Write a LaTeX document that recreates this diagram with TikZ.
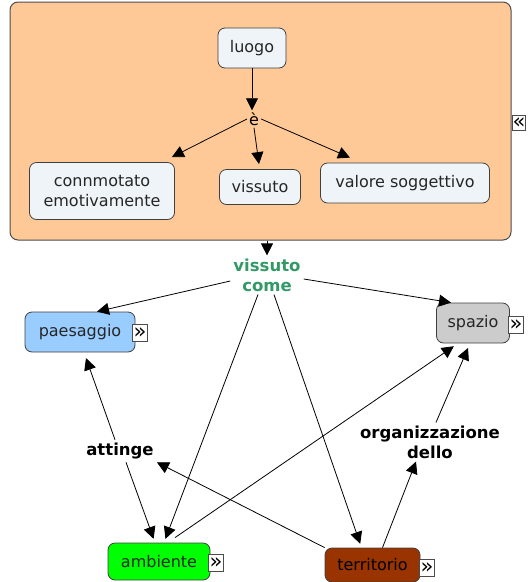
\documentclass[tikz,border=0pt]{standalone}
\usepackage{fontspec}
\setmainfont{DejaVu Sans}
\usetikzlibrary{arrows.meta}
\definecolor{peach}{HTML}{FFC997}
\definecolor{pale}{HTML}{EEF4F7}
\definecolor{skyfill}{HTML}{99CCFF}
\definecolor{greyfill}{HTML}{CCCCCC}
\definecolor{brownfill}{HTML}{993300}
\definecolor{linkgreen}{HTML}{339966}
\begin{document}
\begin{tikzpicture}[x=1pt,y=-1pt,
    concept/.style={draw=black!75,fill=pale,rounded corners=7pt,line width=.8pt,align=center,
      text=black!85,font=\fontsize{16}{20}\selectfont,inner sep=0pt,minimum height=40pt},
    linkphrase/.style={font=\bfseries\fontsize{16.5}{20}\selectfont,align=center,inner sep=3pt},
    icon/.style={draw=black!70,fill=white,line width=.6pt,inner sep=0pt,minimum width=15pt,
      minimum height=17pt,font=\fontsize{21}{21}\selectfont},
    arr/.style={-{Triangle[length=12pt,width=12pt]},line width=.8pt}]
    \useasboundingbox (0,0) rectangle (529,582);
    % map with the sub-concepts of place
    \node[draw=black!70,fill=peach,rounded corners=8pt,line width=1pt,minimum width=501pt,minimum height=238pt] (place) at (260.5,121) {};
    \node[icon,minimum width=13pt,minimum height=15pt] (placeicon) at (519,123) {\raisebox{-1pt}{«}};
    \node[concept,minimum width=68pt] (luogo) at (252,48) {luogo};
    \node[font=\fontsize{16}{20}\selectfont,inner sep=2pt] (e) at (254,119) {è};
    \node[concept,minimum width=145pt,minimum height=57pt] (conn) at (102,191) {connmotato\\emotivamente};
    \node[concept,minimum width=81pt,minimum height=35pt] (vis) at (260,187) {vissuto};
    \node[concept,minimum width=169pt] (val) at (405,183) {valore soggettivo};
    \draw[arr] (luogo.south) -- (luogo.south |- e.north);
    \draw[arr] (e.west) -- ([xshift=-3pt,yshift=5pt]conn.north east);
    \draw[arr] (e.south) -- ([xshift=-1pt,yshift=5pt]vis.north);
    \draw[arr] (e.east) -- ([xshift=-55pt,yshift=5pt]val.north);
    % outer concepts
    \node[linkphrase,text=linkgreen] (viscome) at (267,275) {vissuto\\come};
    \node[concept,fill=skyfill,minimum width=110pt] (paes) at (80,332) {paesaggio};
    \node[icon] (paesicon) at (140,333) {\raisebox{-1pt}{»}};
    \node[concept,fill=greyfill,minimum width=73pt] (spazio) at (473,323) {spazio};
    \node[icon] (spazioicon) at (516,325) {\raisebox{-1pt}{»}};
    \node[concept,fill=green,minimum width=102pt,minimum height=37pt] (amb) at (159,561.5) {ambiente};
    \node[concept,fill=brownfill,text=black,minimum width=95pt,minimum height=34pt] (terr) at (372.5,565) {territorio};
    \node[icon] (ambicon) at (216,563) {\raisebox{-1pt}{»}};
    \node[icon] (terricon) at (427,568) {\raisebox{-1pt}{»}};
    \node[linkphrase] (attinge) at (120,451) {attinge};
    \node[linkphrase] (org) at (430,442) {organizzazione\\dello};
    \draw[arr] (place.south -| viscome.north) -- (viscome.north);
    \draw[arr] ([yshift=-6pt]viscome.west) -- ([xshift=17pt]paes.north);
    \draw[arr] ([yshift=-4pt]viscome.east) -- ([xshift=-22pt]spazio.north);
    \draw[arr,shorten >=4pt] ([xshift=-9pt]viscome.south) -- ([xshift=5pt]amb.north);
    \draw[arr,shorten >=4pt] ([xshift=7pt]viscome.south) -- ([xshift=-11pt]terr.north);
    \draw[arr,shorten >=6pt] ([xshift=-5pt]attinge.north) -- ([xshift=4pt]paes.south);
    \draw[arr,shorten >=4pt] ([xshift=6pt]attinge.south) -- ([xshift=-4pt]amb.north);
    \draw[arr] (terr.north west) -- (attinge.south east);
    \draw[arr,shorten >=5pt] ([xshift=16pt,yshift=5pt]amb.north) -- ([xshift=-15pt]spazio.south);
    \draw[arr] ([xshift=10pt]terr.north) -- ([xshift=-14pt]org.south);
    \draw[arr,shorten >=5pt] ([xshift=6pt]org.north) -- ([xshift=-3pt]spazio.south);
\end{tikzpicture}
\end{document}
